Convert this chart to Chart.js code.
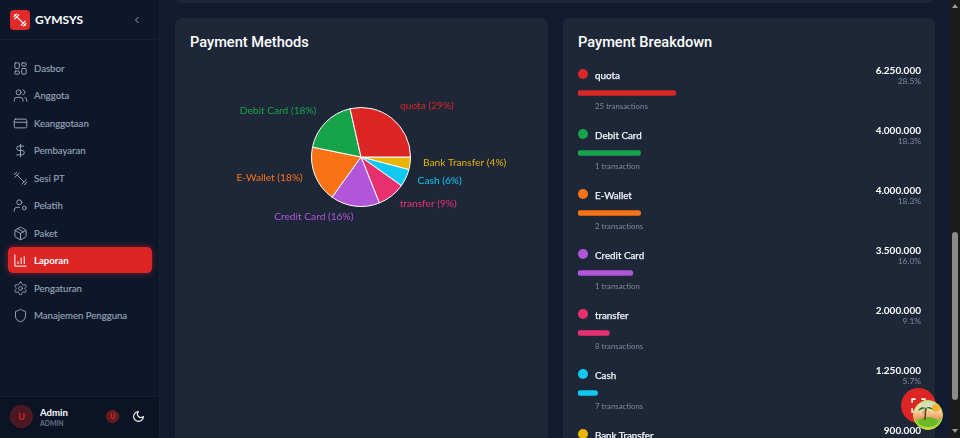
<![CDATA[<!DOCTYPE html>
<html><head><meta charset="utf-8">
<script src="https://cdn.jsdelivr.net/npm/chart.js@4"></script>
<style>
*{box-sizing:border-box}
html,body{margin:0;width:960px;height:438px;overflow:hidden;background:#111a2e;font-family:Lato,"Noto Sans",sans-serif;color:#fff}
.abs,.abs *{position:absolute}
.abs{position:absolute}
canvas{display:block}
#side{left:0;top:0;width:160px;height:438px;background:#0e172a;border-right:1px solid #162033}
#logo{left:10px;top:10px;width:20px;height:20px;border-radius:4px;background:#e02a2a}
#brand{left:35px;top:11px;font-size:12px;font-weight:700;line-height:18px}
#chev{left:131px;top:14px}
#sep{left:0;top:39px;width:159px;height:1px;background:#162033}
.nav{left:34px;font-size:9.6px;line-height:14px;color:#94a3b8;white-space:nowrap;-webkit-text-stroke:.15px #94a3b8}
.ico{left:12.5px;width:15px;height:15px;fill:none;stroke:#94a3b8;stroke-width:1.6;stroke-linecap:round;stroke-linejoin:round}
#active{left:8px;top:247px;width:144px;height:26px;border-radius:5px;background:#dc2626;box-shadow:0 0 6px rgba(220,38,38,.55)}
#foot{left:0;top:396px;width:159px;height:42px;background:#0b1324;border-top:1px solid #162033}
#av{left:10px;top:405px;width:23px;height:23px;border-radius:50%;background:#4a1722;border:1px solid #5c1a22;color:#dc2626;font-size:9px;font-weight:700;text-align:center;line-height:21px}
#av2{left:106px;top:410px;width:13px;height:13px;border-radius:50%;background:#5f1a22;border:1px solid #7f1d1d;color:#dc2626;font-size:7px;font-weight:700;text-align:center;line-height:11px}
#an{left:40px;top:406px;font-size:9.6px;font-weight:700;line-height:14px}
#ar{left:40px;top:417px;font-size:6.8px;color:#64748b;line-height:12px;font-weight:700}
.card{background:#1e2738;border-radius:6px}
#top{left:175px;top:-20px;width:760px;height:23px}
#c1{left:175px;top:18px;width:373px;height:460px}
#c2{left:563px;top:18px;width:372px;height:460px}
.h{font-family:Roboto,Lato,sans-serif;font-size:14.6px;font-weight:500;line-height:22px;white-space:nowrap}
.dot{width:10px;height:10px;border-radius:50%}
.nm{left:595px;font-size:9.8px;line-height:14px;white-space:nowrap;color:#f1f5f9;-webkit-text-stroke:.25px #f1f5f9}
.tx{left:595px;font-size:7.8px;line-height:12px;color:#7c899c;white-space:nowrap}
.am{right:39px;font-size:10px;line-height:14px;font-weight:700;white-space:nowrap}
.pc{right:39px;font-size:8.4px;line-height:12px;color:#7c899c;white-space:nowrap}
#rows{left:0;top:0;width:960px;height:438px}
#sb{left:950px;top:0;width:10px;height:438px;background:#1b1b1b}
#th{left:952px;top:232px;width:6px;height:168px;background:#8a8a8a;border-radius:3px}
#pie{left:190px;top:57px;width:342px;height:200px}
#bars{left:578px;top:63px;width:343px;height:420px}
#fab{left:901px;top:388px;width:35px;height:35px;border-radius:50%;background:#dc2626}
</style></head><body>
<div class="abs" id="side"></div><div class="abs" id="sep"></div>
<div class="abs" id="logo"><svg style="left:3px;top:3px;width:14px;height:14px;fill:none;stroke:#fff;stroke-width:2;stroke-linecap:round" viewBox="0 0 24 24"><path d="m6.5 6.5 11 11M21 21l-1-1M3 3l1 1M18 22l4-4M2 6l4-4M3 10l7-7M14 21l7-7"/></svg></div>
<div class="abs" id="brand">GYMSYS</div>
<svg class="abs" id="chev" width="12" height="12" viewBox="0 0 24 24" fill="none" stroke="#94a3b8" stroke-width="2"><path d="M15 6l-6 6 6 6"/></svg>
<div class="abs" id="active"></div>
<div class="abs" id="navhost"></div>
<div class="abs" id="foot"></div>
<div class="abs" id="av">U</div><div class="abs" id="an">Admin</div><div class="abs" id="ar">ADMIN</div><div class="abs" id="av2">U</div>
<svg class="abs" style="left:132px;top:410px" width="13" height="13" viewBox="0 0 24 24" fill="none" stroke="#fff" stroke-width="2" stroke-linecap="round" stroke-linejoin="round"><path d="M12 3a6 6 0 0 0 9 9 9 9 0 1 1-9-9Z"/></svg>
<div class="abs card" id="top"></div><div class="abs card" id="c1"></div><div class="abs card" id="c2"></div>
<div class="abs h" style="left:190px;top:31px">Payment Methods</div>
<div class="abs h" style="left:578px;top:31px">Payment Breakdown</div>
<div class="abs" id="pie"><canvas id="pieC" width="342" height="200"></canvas></div>
<div class="abs" id="rows"></div>
<div class="abs" id="bars"><canvas id="barC" width="343" height="420"></canvas></div>
<div class="abs" id="fab"><svg style="left:9px;top:9px" width="17" height="17" viewBox="0 0 24 24" fill="none" stroke="#fff" stroke-width="2.2"><path d="M3 8V3h5M16 3h5v5M21 16v5h-5M8 21H3v-5"/></svg></div>
<svg class="abs" style="left:913px;top:400px" width="30" height="30" viewBox="0 0 30 30"><defs><linearGradient id="g" x1="0" y1="0" x2="0" y2="1"><stop offset="0" stop-color="#bfe3c8"/><stop offset=".35" stop-color="#f7dca0"/><stop offset=".62" stop-color="#f2946b"/><stop offset=".66" stop-color="#7ccb3a"/><stop offset="1" stop-color="#c4dc3c"/></linearGradient></defs><circle cx="15" cy="15" r="14.5" fill="url(#g)" stroke="#cfd84f"/><circle cx="23" cy="8" r="4" fill="#f5b335"/><ellipse cx="15" cy="22" rx="10" ry="5" fill="#6fb82a"/><path d="M13 8c-.5 4-1 8-1 12" stroke="#6a3f18" stroke-width="1.6" fill="none"/><path d="M13 8c-4-2-7 0-8 3 2-1 5-2 8-3zM13 8c3-2 6-1 7 2-2-1-4-2-7-2zM13 8c-1 2-3 3-4 6 2-2 3-4 4-6zM13 8c1 2 3 3 4 6-1-2-3-4-4-6z" fill="#1f7a35"/></svg>
<div class="abs" id="sb"></div><div class="abs" id="th"></div>
<svg class="abs" style="left:951px;top:3px" width="8" height="6"><path d="M4 1l3 4H1z" fill="#9a9a9a"/></svg>
<svg class="abs" style="left:951px;top:428px" width="8" height="6"><path d="M1 1h6L4 5z" fill="#9a9a9a"/></svg>
<script>
const navLabels=["Dasbor","Anggota","Keanggotaan","Pembayaran","Sesi PT","Pelatih","Paket","Laporan","Pengaturan","Manajemen Pengguna"];
const categories=["quota","Debit Card","E-Wallet","Credit Card","transfer","Cash","Bank Transfer"];
const amounts=[6250000,4000000,4000000,3500000,2000000,1250000,900000];
const amountLabels=["6.250.000","4.000.000","4.000.000","3.500.000","2.000.000","1.250.000","900.000"];
const shares=["28.5%","18.3%","18.3%","16.0%","9.1%","5.7%","4.1%"];
const pieShares=["29%","18%","18%","16%","9%","6%","4%"];
const transactions=["25 transactions","1 transaction","2 transactions","1 transaction","8 transactions","7 transactions","3 transactions"];
const colors=["#dc2626","#16a34a","#f97316","#b155d9","#e9306f","#0fc9f0","#eab308"];

const icons=[
'<rect x="3" y="3" width="7" height="9" rx="1"/><rect x="14" y="3" width="7" height="5" rx="1"/><rect x="14" y="12" width="7" height="9" rx="1"/><rect x="3" y="16" width="7" height="5" rx="1"/>',
'<path d="M16 21v-2a4 4 0 0 0-4-4H6a4 4 0 0 0-4 4v2"/><circle cx="9" cy="7" r="4"/><path d="M22 21v-2a4 4 0 0 0-3-3.87"/><path d="M16 3.13a4 4 0 0 1 0 7.75"/>',
'<rect x="2" y="5" width="20" height="14" rx="2"/><path d="M2 10h20"/>',
'<path d="M12 2v20"/><path d="M17 5H9.5a3.5 3.5 0 0 0 0 7h5a3.5 3.5 0 0 1 0 7H6"/>',
'<path d="m6.5 6.5 11 11M21 21l-1-1M3 3l1 1M18 22l4-4M2 6l4-4M3 10l7-7M14 21l7-7"/>',
'<circle cx="10" cy="7" r="4"/><path d="M10 15H6a4 4 0 0 0-4 4v2"/><circle cx="18" cy="16" r="3"/>',
'<path d="M21 8a2 2 0 0 0-1-1.73l-7-4a2 2 0 0 0-2 0l-7 4A2 2 0 0 0 3 8v8a2 2 0 0 0 1 1.73l7 4a2 2 0 0 0 2 0l7-4A2 2 0 0 0 21 16Z"/><path d="m3.3 7 8.7 5 8.7-5"/><path d="M12 22V12"/><path d="m7.5 4.27 9 5.15"/>',
'<path d="M3 3v18h18"/><path d="M8 17v-3"/><path d="M13 17V8"/><path d="M18 17V6"/>',
'<path d="M12.22 2h-.44a2 2 0 0 0-2 2v.18a2 2 0 0 1-1 1.73l-.43.25a2 2 0 0 1-2 0l-.15-.08a2 2 0 0 0-2.73.73l-.22.38a2 2 0 0 0 .73 2.73l.15.1a2 2 0 0 1 1 1.72v.51a2 2 0 0 1-1 1.74l-.15.09a2 2 0 0 0-.73 2.73l.22.38a2 2 0 0 0 2.73.73l.15-.08a2 2 0 0 1 2 0l.43.25a2 2 0 0 1 1 1.73V20a2 2 0 0 0 2 2h.44a2 2 0 0 0 2-2v-.18a2 2 0 0 1 1-1.73l.43-.25a2 2 0 0 1 2 0l.15.08a2 2 0 0 0 2.73-.73l.22-.39a2 2 0 0 0-.73-2.73l-.15-.08a2 2 0 0 1-1-1.74v-.5a2 2 0 0 1 1-1.74l.15-.09a2 2 0 0 0 .73-2.73l-.22-.38a2 2 0 0 0-2.73-.73l-.15.08a2 2 0 0 1-2 0l-.43-.25a2 2 0 0 1-1-1.73V4a2 2 0 0 0-2-2z"/><circle cx="12" cy="12" r="3"/>',
'<path d="M20 13c0 5-3.5 7.5-7.66 8.95a1 1 0 0 1-.67-.01C7.5 20.5 4 18 4 13V6a1 1 0 0 1 1-1c2 0 4.5-1.2 6.24-2.72a1.17 1.17 0 0 1 1.52 0C14.51 3.81 17 5 19 5a1 1 0 0 1 1 1z"/>'];
const navY=[68.5,96,123.5,150.5,178.5,205.5,233.5,260.5,288.5,315.5];
let nh='';
navLabels.forEach((t,i)=>{const on=t==="Laporan";
 nh+=`<svg class="ico" viewBox="0 0 24 24" style="position:absolute;top:${navY[i]-8}px;${on?'stroke:#fff':''}">${icons[i]}</svg><div class="nav" style="position:absolute;top:${navY[i]-7}px;${on?'color:#fff;font-weight:700;-webkit-text-stroke:0':''}">${t}</div>`});
document.getElementById('navhost').innerHTML=nh;

let rh='';
categories.forEach((c,i)=>{const y=60*i;
 rh+=`<div class="dot" style="left:578px;top:${69+y}px;background:${colors[i]}"></div>
 <div class="nm" style="top:${67.5+y}px">${c}</div>
 <div class="tx" style="top:${100+y}px">${transactions[i]}</div>
 <div class="am" style="top:${63+y}px">${amountLabels[i]}</div>
 <div class="pc" style="top:${75+y}px">${shares[i]}</div>`});
document.getElementById('rows').innerHTML=rh;

// reversed so that the clockwise library sweep reads counter-clockwise from 3 o'clock
const rev=a=>a.slice().reverse();
const pieLabels={id:'pieLabels',afterDatasetsDraw(ch){
 const c=ch.ctx,m=ch.getDatasetMeta(0),L=rev(categories),S=rev(pieShares),C=rev(colors);
 c.save();c.font='10.2px Lato';c.textBaseline='middle';
 m.data.forEach((a,i)=>{const p=a.getProps(['x','y','startAngle','endAngle','outerRadius'],true);
  const t=(p.startAngle+p.endAngle)/2,r=p.outerRadius+13;
  const x=p.x+r*Math.cos(t),y=p.y+r*Math.sin(t)-2.5;
  c.fillStyle=C[i];c.textAlign=Math.cos(t)>=0?'left':'right';
  c.fillText(`${L[i]} (${S[i]})`,x,y);});
 c.restore();}};
new Chart(document.getElementById('pieC'),{type:'pie',plugins:[pieLabels],
 data:{labels:rev(categories),datasets:[{data:rev(amounts),backgroundColor:rev(colors),borderColor:'#fff',borderWidth:1}]},
 options:{responsive:false,animation:false,rotation:90,layout:{padding:{top:50,bottom:50}},plugins:{legend:{display:false},tooltip:{enabled:false}}}});

const total=amounts.reduce((a,b)=>a+b,0);
new Chart(document.getElementById('barC'),{type:'bar',
 data:{labels:categories,datasets:[{data:amounts,backgroundColor:colors,barThickness:5,borderRadius:3,borderSkipped:false}]},
 options:{indexAxis:'y',responsive:false,animation:false,layout:{padding:0},
  scales:{x:{display:false,min:0,max:total},y:{display:false}},
  plugins:{legend:{display:false},tooltip:{enabled:false}}}});
</script>
</body></html>]]>
